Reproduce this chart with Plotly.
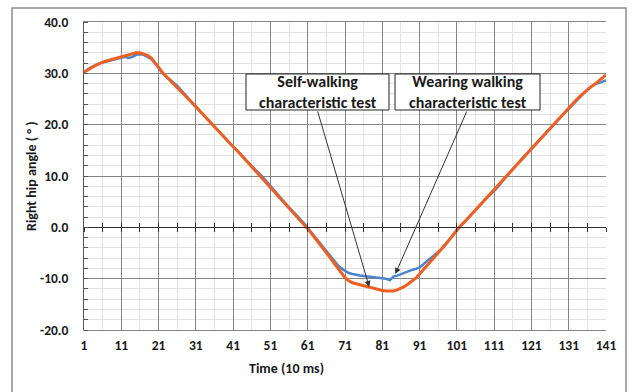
import plotly.graph_objects as go

time_10ms = list(range(1, 142))

self_walking = [
    30.2, 30.7, 31.1, 31.5, 31.9, 32.2, 32.4, 32.6, 32.8, 33.0,
    33.2, 33.4, 33.6, 33.8, 34.0, 34.0, 33.8, 33.5, 33.0, 32.2,
    31.2, 30.2, 29.4, 28.6, 27.9, 27.2, 26.5, 25.8, 25.0, 24.3,
    23.5, 22.7, 21.9, 21.1, 20.3, 19.6, 18.9, 18.1, 17.3, 16.5,
    15.7, 15.0, 14.2, 13.4, 12.6, 11.9, 11.1, 10.3, 9.5, 8.7,
    7.8, 7.0, 6.2, 5.4, 4.6, 3.8, 3.0, 2.2, 1.4, 0.6,
    -0.3, -1.2, -2.1, -3.0, -3.9, -4.9, -5.9, -6.9, -7.9, -8.9,
    -9.8, -10.4, -10.8, -11.0, -11.2, -11.4, -11.6, -11.8, -12.0, -12.2,
    -12.3, -12.4, -12.4, -12.4, -12.2, -11.9, -11.5, -11.0, -10.5, -9.9,
    -9.1, -8.3, -7.5, -6.7, -5.9, -5.1, -4.2, -3.3, -2.4, -1.5,
    -0.5, 0.3, 1.0, 1.8, 2.6, 3.4, 4.2, 5.0, 5.8, 6.6,
    7.4, 8.2, 9.0, 9.8, 10.6, 11.4, 12.2, 13.0, 13.8, 14.6,
    15.4, 16.2, 17.0, 17.8, 18.6, 19.4, 20.2, 21.0, 21.8, 22.6,
    23.4, 24.1, 24.8, 25.5, 26.2, 26.8, 27.4, 27.9, 28.5, 29.1,
    29.7,
]

wearing_walking = [
    30.2, 30.8, 31.2, 31.6, 31.9, 32.1, 32.3, 32.5, 32.7, 32.9,
    33.1, 33.2, 33.0, 33.2, 33.6, 33.7, 33.6, 33.2, 32.8, 32.0,
    31.0, 30.1, 29.4, 28.8, 28.2, 27.6, 26.8, 25.9, 25.0, 24.3,
    23.5, 22.7, 21.9, 21.1, 20.3, 19.6, 18.9, 18.1, 17.3, 16.5,
    15.7, 15.0, 14.2, 13.4, 12.6, 11.9, 11.2, 10.5, 9.8, 8.9,
    8.1, 7.2, 6.3, 5.5, 4.7, 3.9, 3.2, 2.4, 1.6, 0.8,
    -0.1, -1.1, -2.0, -2.9, -3.8, -4.7, -5.6, -6.5, -7.3, -8.0,
    -8.5, -8.9, -9.1, -9.3, -9.4, -9.5, -9.6, -9.7, -9.8, -9.9,
    -9.9, -10.0, -10.3, -9.6, -9.4, -9.1, -8.8, -8.5, -8.3, -8.1,
    -7.8, -7.2, -6.6, -6.1, -5.5, -4.8, -4.1, -3.3, -2.4, -1.5,
    -0.5, 0.3, 1.0, 1.8, 2.6, 3.4, 4.2, 5.0, 5.7, 6.4,
    7.1, 7.8, 8.8, 9.7, 10.6, 11.4, 12.2, 13.0, 13.8, 14.6,
    15.4, 16.2, 17.0, 17.8, 18.6, 19.4, 20.2, 21.0, 21.8, 22.4,
    23.1, 23.9, 24.7, 25.4, 26.1, 26.8, 27.4, 27.9, 28.1, 28.3,
    28.6,
]

y_ticks = [-20, -10, 0, 10, 20, 30, 40]
y_tick_text = ["-20.0", "-10.0", "0.0", "10.0", "20.0", "30.0", "40.0"]
x_ticks = list(range(1, 142, 10))
x_tick_text = [str(v) for v in x_ticks]

self_label = ["Self-walking", "characteristic test"]
wear_label = ["Wearing walking", "characteristic test"]

FONT = "Carlito, Lato, 'Liberation Sans Narrow', Roboto, sans-serif"
TXT = "#1a1a1a"
MAJOR = "#858585"
MINOR = "#e3e3e3"

W, H = 633, 392
ML, MR, MT, MB = 84, 27, 22, 62
PW, PH = W - ML - MR, H - MT - MB


def px_x(p):
    return (p - ML) / PW


def px_y(p):
    return (H - MB - p) / PH


fig = go.Figure()
fig.add_trace(go.Scatter(x=time_10ms, y=wearing_walking, mode="lines",
                         line=dict(color="#4a86d0", width=2.5),
                         name="Wearing walking characteristic test"))
fig.add_trace(go.Scatter(x=time_10ms, y=self_walking, mode="lines",
                         line=dict(color="#ef5f22", width=3),
                         name="Self-walking characteristic test"))
# carriers for the zero-line axis ticks
fig.add_trace(go.Scatter(x=[], y=[], xaxis="x2", showlegend=False, hoverinfo="skip"))
fig.add_trace(go.Scatter(x=[], y=[], xaxis="x3", showlegend=False, hoverinfo="skip"))

zero_pos = (0 - (-20)) / 60

fig.update_layout(
    width=W, height=H,
    margin=dict(l=ML, r=MR, t=MT, b=MB, pad=0),
    paper_bgcolor="white", plot_bgcolor="white",
    showlegend=False,
    font=dict(family=FONT, color=TXT),
    xaxis=dict(
        range=[1, 141], tickmode="array", tickvals=x_ticks, ticktext=x_tick_text,
        showgrid=True, gridcolor=MAJOR, gridwidth=1,
        minor=dict(tick0=1, dtick=5, showgrid=True, gridcolor=MINOR, gridwidth=1),
        showline=True, linecolor=MAJOR, linewidth=1, mirror=True,
        zeroline=False, ticks="", ticklabelstandoff=3,
        tickfont=dict(family=FONT, size=13.5, color=TXT, weight="bold"),
    ),
    xaxis2=dict(
        range=[1, 141], overlaying="x", anchor="free", position=zero_pos,
        tick0=1, dtick=5, ticks="inside", ticklen=4, tickcolor="#303030",
        showticklabels=False, showgrid=False, zeroline=False,
        showline=True, linecolor="#303030", linewidth=1.3,
    ),
    xaxis3=dict(
        range=[1, 141], overlaying="x", anchor="free", position=zero_pos,
        tick0=1, dtick=5, ticks="outside", ticklen=4, tickcolor="#303030",
        showticklabels=False, showgrid=False, zeroline=False,
        showline=False,
    ),
    yaxis=dict(
        range=[-20, 40], tickmode="array", tickvals=y_ticks, ticktext=y_tick_text,
        showgrid=True, gridcolor=MAJOR, gridwidth=1,
        minor=dict(dtick=2, tick0=0, showgrid=True, gridcolor=MINOR, gridwidth=1,
                   ticks="inside", ticklen=4, tickcolor="#555555"),
        showline=True, linecolor="#555555", linewidth=1, mirror=False,
        zeroline=False, ticks="", ticklabelstandoff=12,
        tickfont=dict(family=FONT, size=13.5, color=TXT, weight="bold"),
    ),
)

# outer chart frame
fig.add_shape(type="rect", xref="paper", yref="paper",
              x0=px_x(12), x1=px_x(626), y0=px_y(400), y1=px_y(8),
              line=dict(color="#8c8c8c", width=1.5), fillcolor="rgba(0,0,0,0)",
              layer="below")

# axis titles
fig.add_annotation(text="Time (10 ms)", xref="paper", yref="paper",
                   x=px_x(286), y=px_y(368), xanchor="center", yanchor="middle",
                   showarrow=False,
                   font=dict(family=FONT, size=14, color=TXT, weight="bold"))
fig.add_annotation(text="Right hip angle ( ° )", xref="paper", yref="paper",
                   x=px_x(31), y=px_y(176), xanchor="center", yanchor="middle",
                   showarrow=False, textangle=-90,
                   font=dict(family=FONT, size=14, color=TXT, weight="bold"))

# callout arrows
fig.add_annotation(x=77.5, y=-11.6, xref="x", yref="y", text="",
                   showarrow=True, ax=-52, ay=-177, arrowhead=2, arrowsize=1.2,
                   arrowwidth=1, arrowcolor="#333333")
fig.add_annotation(x=84.5, y=-9.1, xref="x", yref="y", text="",
                   showarrow=True, ax=72, ay=-164, arrowhead=2, arrowsize=1.2,
                   arrowwidth=1, arrowcolor="#333333")

# callout boxes (frame as shape, text as one two-line annotation)
box_font = dict(family=FONT, size=16, color=TXT, weight="bold")
for (bx0, bx1, by0, by1), lines in [((246, 389, 74, 110), self_label),
                                    ((395, 540, 74, 110), wear_label)]:
    fig.add_shape(type="rect", xref="paper", yref="paper",
                  x0=px_x(bx0), x1=px_x(bx1), y0=px_y(by1), y1=px_y(by0),
                  line=dict(color="#222222", width=1), fillcolor="white", layer="above")
    fig.add_annotation(text="<br>".join(lines), xref="paper", yref="paper",
                       x=px_x((bx0 + bx1) / 2), y=px_y((by0 + by1) / 2),
                       xanchor="center", yanchor="middle", showarrow=False,
                       borderpad=0, font=box_font)

fig.write_html("out.html")
